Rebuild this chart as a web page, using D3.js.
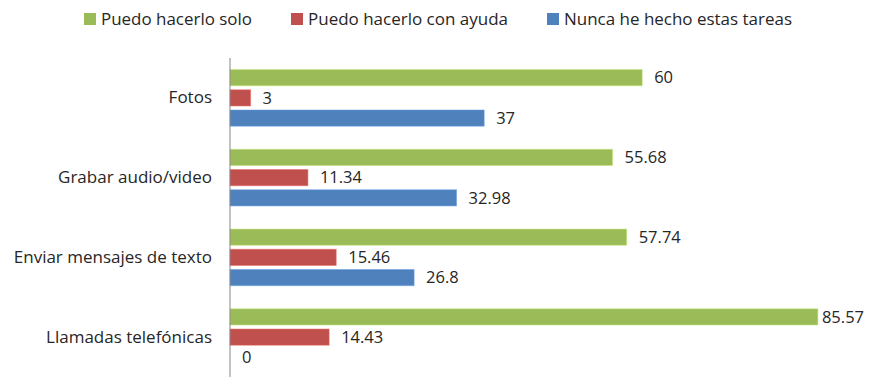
<!DOCTYPE html>
<html>
<head>
<meta charset="utf-8">
<script src="https://cdn.jsdelivr.net/npm/d3@7"></script>
<style>
  body { margin: 0; background: #fff; }
  text { font-family: "Open Sans", sans-serif; fill: #262626; }
</style>
</head>
<body>
<script>
const categories = ['Fotos', 'Grabar audio/video', 'Enviar mensajes de texto', 'Llamadas telefónicas'];
const seriesNames = ['Puedo hacerlo solo', 'Puedo hacerlo con ayuda', 'Nunca he hecho estas tareas'];
const solo = [60, 55.68, 57.74, 85.57];
const ayuda = [3, 11.34, 15.46, 14.43];
const nunca = [37, 32.98, 26.8, 0];
const colors = ['#9bbb59', '#c0504d', '#4f81bd'];

const seriesValues = [solo, ayuda, nunca];
const rows = categories.map((c, i) => ({
  cat: c,
  vals: seriesNames.map((s, j) => ({ key: s, value: seriesValues[j][i], color: colors[j] }))
}));

const width = 890, height = 383;
const svg = d3.select('body').append('svg')
  .attr('width', width)
  .attr('height', height);

const x = d3.scaleLinear().domain([0, 100]).range([230, 917]);
const y0 = d3.scaleBand().domain(categories).range([58, 377])
  .paddingInner(0.29).paddingOuter(0.145);
const y1 = d3.scaleBand().domain(seriesNames).range([0, y0.bandwidth()])
  .paddingInner(0.2);

const groups = svg.selectAll('g.grp')
  .data(rows)
  .enter().append('g')
  .attr('class', 'grp')
  .attr('transform', d => `translate(0, ${y0(d.cat)})`);

groups.selectAll('rect')
  .data(d => d.vals)
  .enter().append('rect')
  .attr('x', x(0))
  .attr('y', d => y1(d.key))
  .attr('width', d => x(d.value) - x(0))
  .attr('height', y1.bandwidth())
  .attr('fill', d => d.color)
  .attr('stroke', d => d3.color(d.color).brighter(0.6))
  .attr('stroke-opacity', 0.5)
  .attr('stroke-width', d => d.value > 0 ? 1 : 0);

groups.selectAll('text.val')
  .data(d => d.vals)
  .enter().append('text')
  .attr('class', 'val')
  .attr('y', d => y1(d.key) + y1.bandwidth() / 2)
  .attr('dy', '0.35em')
  .style('font-size', '16.5px')
  .text(d => d.value)
  .attr('x', function(d) {
    const len = this.getComputedTextLength();
    return Math.min(x(d.value) + 12, 864 - len);
  });

// category axis
const yAxis = svg.append('g')
  .attr('transform', `translate(${x(0)}, 0)`)
  .call(d3.axisLeft(y0).tickSize(0).tickPadding(18));
yAxis.select('.domain').attr('stroke', '#868686').attr('d', 'M0,58V377');
yAxis.selectAll('text')
  .style('font-size', '17px')
  .style('font-family', '"Open Sans", sans-serif')
  .attr('fill', '#262626');

// legend
const legendX = [84, 291, 547];
const legendW = [151, 200, 228];
const legend = svg.append('g');
seriesNames.forEach((s, i) => {
  legend.append('rect')
    .attr('x', legendX[i]).attr('y', 13)
    .attr('width', 12).attr('height', 12)
    .attr('fill', colors[i]);
  legend.append('text')
    .attr('x', legendX[i] + 17).attr('y', 25)
    .style('font-size', '17px')
    .attr('textLength', legendW[i])
    .attr('lengthAdjust', 'spacingAndGlyphs')
    .text(s);
});
</script>
</body>
</html>
